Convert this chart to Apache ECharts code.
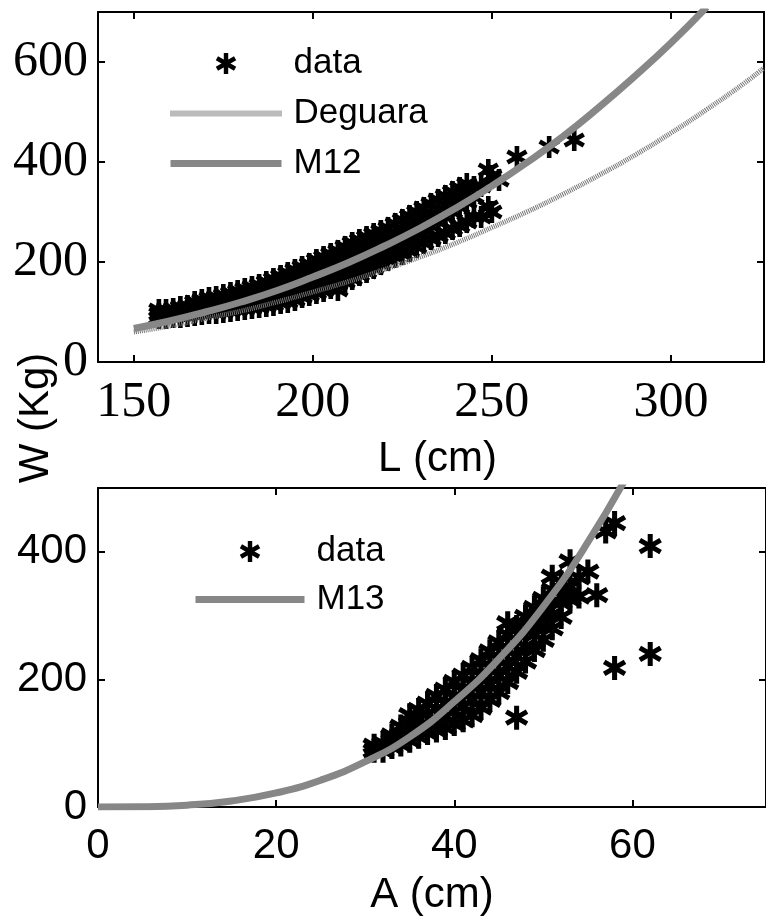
<!DOCTYPE html>
<html>
<head>
<meta charset="utf-8">
<script src="https://cdn.jsdelivr.net/npm/echarts@6/dist/echarts.min.js"></script>
<style>
  html, body { margin: 0; padding: 0; background: #fff; }
  #chart { width: 766px; height: 920px; }
</style>
</head>
<body>
<div id="chart"></div>
<script>
// ---- top panel: W (Kg) against L (cm) ----
var curveL   = [150,160,170,180,190,200,210,220,230,240,250,260,270,280,290,300,310];
var m12W     = [67,82,100,120,143,170,199,232,268,308,352,400,452,510,572,638,710];
var deguaraL = [150,160,170,180,190,200,210,220,230,240,250,260,270,280,290,300,310,320,326];
var deguaraW = [60,72,87,102,120,140,161,185,210,238,269,301,336,374,414,458,505,555,588];
// measured fish, [L, W]
var dataLW = [
  [157,88],[157,96],[157,104],[159,88],[159,96],[159,104],[161,90],[161,98],[161,106],
  [163,90],[163,100],[163,110],[165,92],[165,102],[165,112],
  [167,94],[167,104],[167,114],[167,120],[169,96],[169,106],[169,116],[169,124],
  [171,98],[171,108],[171,118],[171,128],[173,98],[173,110],[173,120],[173,130],
  [175,100],[175,112],[175,124],[175,134],[177,102],[177,114],[177,126],[177,138],
  [179,104],[179,116],[179,128],[179,142],[181,106],[181,118],[181,132],[181,146],
  [183,108],[183,122],[183,136],[183,150],[185,110],[185,124],[185,140],[185,154],
  [187,112],[187,128],[187,144],[187,160],[189,114],[189,132],[189,150],[189,166],
  [191,118],[191,136],[191,154],[191,172],[193,120],[193,140],[193,160],[193,178],
  [195,124],[195,144],[195,164],[195,184],[197,130],[197,150],[197,170],[197,190],
  [199,134],[199,154],[199,176],[199,196],[201,138],[201,160],[201,182],[201,204],
  [203,142],[203,164],[203,188],[203,210],[205,148],[205,170],[205,194],[205,216],
  [207,144],[207,156],[207,178],[207,200],[207,222],[209,160],[209,184],[209,208],[209,230],
  [211,166],[211,190],[211,214],[211,238],[213,174],[213,198],[213,222],[213,244],
  [215,180],[215,204],[215,228],[215,250],[217,188],[217,212],[217,236],[217,256],
  [219,196],[219,220],[219,242],[219,262],[221,204],[221,226],[221,248],[221,268],
  [223,210],[223,232],[223,256],[223,276],[225,216],[225,240],[225,264],[225,284],
  [227,222],[227,248],[227,272],[227,292],[229,230],[229,256],[229,280],[229,300],
  [231,238],[231,264],[231,288],[231,308],[233,246],[233,272],[233,296],[233,316],
  [235,252],[235,280],[235,304],[235,324],[237,258],[237,290],[237,314],[237,332],
  [239,266],[239,300],[239,322],[239,340],[241,272],[241,310],[241,330],[241,348],
  [243,280],[243,320],[243,340],[243,356],[245,290],[245,330],[245,350],
  [247,290],[247,352],[249,310],[249,384],[250,300],[250,372],[252,364],
  [257,410],[266,430],[273,444]
];

// ---- bottom panel: W (Kg) against A (cm) ----
var curveA = [0,5,10,15,20,25,30,35,40,45,50,55,60];
var m13W   = [0,0.4,2.9,9.5,22,42,71,110,165,232,314,415,534];
var dataAW = [
  [31,88],[31,96],[32,88],[32,100],[33,94],[33,104],[33,112],[34,98],[34,112],[34,126],
  [35,104],[35,118],[35,132],[35,144],[36,110],[36,124],[36,138],[36,152],
  [37,116],[37,130],[37,146],[37,162],[38,120],[38,136],[38,154],[38,174],
  [39,124],[39,142],[39,162],[39,184],[40,130],[40,150],[40,172],[40,196],
  [41,136],[41,158],[41,182],[41,206],[42,144],[42,168],[42,194],[42,218],
  [43,156],[43,180],[43,206],[43,230],[44,168],[44,192],[44,218],[44,244],
  [45,180],[45,206],[45,232],[45,258],[46,196],[46,220],[46,246],[46,270],[46,288],
  [47,140],[47,212],[47,236],[47,260],[47,282],[48,228],[48,252],[48,276],[48,298],
  [49,246],[49,270],[49,292],[49,312],[50,262],[50,286],[50,308],[50,326],
  [51,280],[51,302],[51,322],[51,340],[51,361],[52,298],[52,320],[52,340],[52,352],
  [53,325],[53,345],[53,385],[54,330],[54,360],[55,369],[56,332],
  [57,432],[58,445],[58,218],[62,409],[62,240]
];

var SANS = '"Liberation Sans", Arial, sans-serif';
var SERIF = '"Liberation Serif", "Times New Roman", serif';
var GREY = '#878787';

// asterisk marker: three crossed bars (matlab '*')
function star() {
  var L = 10, h = 2.1, d = '';
  [90, 30, -30].forEach(function (deg) {
    var a = deg * Math.PI / 180, c = Math.cos(a), s = Math.sin(a);
    var pts = [[L, -h], [L, h], [-L, h], [-L, -h]].map(function (p) {
      return (p[0] * c - p[1] * s).toFixed(3) + ' ' + (p[0] * s + p[1] * c).toFixed(3);
    });
    d += 'M' + pts.join(' L') + ' Z ';
  });
  return 'path://' + d;
}
var STAR = star();

function zip(xs, ys) {
  return xs.map(function (x, i) { return [x, ys[i]]; });
}

function axis(grid, pos, min, max, extra, labels) {
  var a = {
    gridIndex: grid, type: 'value', position: pos, min: min, max: max,
    axisLine: { onZero: false, lineStyle: { color: '#000', width: 2 } },
    axisTick: { inside: true, length: 7, lineStyle: { color: '#000', width: 2 } },
    splitLine: { show: false },
    axisLabel: labels ? labels : { show: false }
  };
  for (var k in extra) a[k] = extra[k];
  return a;
}

var topLab = { fontFamily: SERIF, fontSize: 50, color: '#000', showMinLabel: false, showMaxLabel: false };
var botLab = { fontFamily: SANS, fontSize: 42, color: '#000', showMaxLabel: false };
function lab(base, margin) {
  var o = {}; for (var k in base) o[k] = base[k]; o.margin = margin; return o;
}
var lenScale = { splitNumber: 4, minInterval: 50, maxInterval: 50 };

// legend entries for the fitted lines: line only, no marker
var noMark = { opacity: 0, borderWidth: 0 };
var legendText = { fontFamily: SANS, fontSize: 35, color: '#000', padding: [0, 0, 0, 7] };

var myChart = echarts.init(document.getElementById('chart'));
var option = {
  animation: false,
  backgroundColor: '#fff',
  grid: [
    { left: 98, top: 12, width: 666, height: 350 },
    { left: 98, top: 488, width: 679, height: 319 }
  ],
  xAxis: [
    axis(0, 'bottom', 140, 326, {
      splitNumber: 4, minInterval: 50, maxInterval: 50,
      name: 'L (cm)', nameLocation: 'middle', nameGap: 76,
      nameTextStyle: { fontFamily: SANS, fontSize: 42, color: '#000', padding: [0, 0, 0, 13] }
    }, lab(topLab, 16)),
    axis(0, 'top', 140, 326, lenScale),
    axis(1, 'bottom', 0, 75, {
      interval: 20,
      name: 'A (cm)', nameLocation: 'middle', nameGap: 67,
      nameTextStyle: { fontFamily: SANS, fontSize: 42, color: '#000' }
    }, lab(botLab, 18)),
    axis(1, 'top', 0, 75, { interval: 20 })
  ],
  yAxis: [
    axis(0, 'left', 0, 700, { interval: 200 }, lab({ fontFamily: SERIF, fontSize: 50, color: '#000', showMaxLabel: false }, 10)),
    axis(0, 'right', 0, 700, { interval: 200 }),
    axis(1, 'left', 0, 500, { interval: 200 }, lab(botLab, 11)),
    axis(1, 'right', 0, 500, { interval: 200 })
  ],
  legend: [
    {
      orient: 'vertical', left: 167, top: 46, padding: 0,
      itemWidth: 111, itemHeight: 21, itemGap: 15, selectedMode: false,
      data: [
        { name: 'data', icon: STAR },
        { name: 'Deguara', itemStyle: noMark, lineStyle: { width: 6, type: [1, 1], color: '#777' } },
        { name: 'M12', itemStyle: noMark, lineStyle: { width: 7, color: GREY } }
      ],
      textStyle: legendText
    },
    {
      orient: 'vertical', left: 192, top: 534, padding: 0,
      itemWidth: 109, itemHeight: 21, itemGap: 13, selectedMode: false,
      data: [
        { name: 'data', icon: STAR },
        { name: 'M13', itemStyle: noMark, lineStyle: { width: 7, color: GREY } }
      ],
      textStyle: legendText
    }
  ],
  graphic: [{
    type: 'text', x: 36, y: 418, rotation: Math.PI / 2,
    style: { text: 'W (Kg)', font: '42px "Liberation Sans", Arial, sans-serif', fill: '#000',
             align: 'center', verticalAlign: 'middle' }
  }],
  series: [
    {
      name: 'data', type: 'scatter', xAxisIndex: 0, yAxisIndex: 0,
      data: dataLW, symbol: STAR, symbolSize: 22, symbolKeepAspect: true,
      itemStyle: { color: '#000', opacity: 1 }, z: 2
    },
    {
      name: 'Deguara', type: 'line', xAxisIndex: 0, yAxisIndex: 0,
      data: zip(deguaraL, deguaraW), smooth: true, symbol: 'none', showSymbol: false,
      color: '#777',
      lineStyle: { color: '#777', width: 5, type: [1, 1], cap: 'butt' }, z: 3
    },
    {
      name: 'M12', type: 'line', xAxisIndex: 0, yAxisIndex: 0,
      data: zip(curveL, m12W), smooth: true, symbol: 'none', showSymbol: false,
      color: GREY, lineStyle: { color: GREY, width: 7 }, z: 4
    },
    {
      name: 'data', type: 'scatter', xAxisIndex: 2, yAxisIndex: 2,
      data: dataAW, symbol: STAR, symbolSize: 24, symbolKeepAspect: true,
      itemStyle: { color: '#000', opacity: 1 }, z: 2
    },
    {
      name: 'M13', type: 'line', xAxisIndex: 2, yAxisIndex: 2,
      data: zip(curveA, m13W), smooth: true, symbol: 'none', showSymbol: false,
      color: GREY, lineStyle: { color: GREY, width: 7 }, z: 4
    }
  ]
};
myChart.setOption(option);
</script>
</body>
</html>
